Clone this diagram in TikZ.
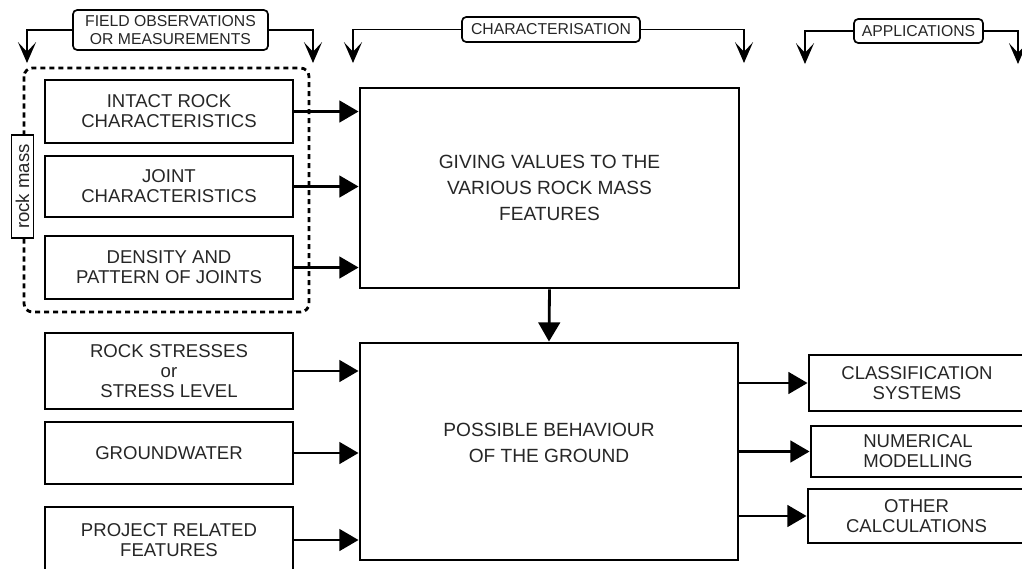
\documentclass[tikz,border=0pt]{standalone}
\usepackage{fontspec}
\setmainfont{Liberation Sans}
\usetikzlibrary{arrows.meta}

\begin{document}
\begin{tikzpicture}[x=0.025cm, y=-0.025cm,
		box/.style={draw=black, line width=2pt, align=center, inner sep=0pt,
			font=\fontsize{13.2}{14.2}\selectfont, text=black!85},
		bigbox/.style={box, font=\fontsize{13.6}{18.5}\selectfont},
		tag/.style={draw=black, line width=1.2pt, rounded corners=3pt, align=center,
			inner sep=0pt, fill=white, font=\fontsize{11.2}{12.2}\selectfont, text=black!85},
		feed/.style={line width=2pt, -{Triangle[length=0.48cm, width=0.54cm]}},
		hdr/.style={line width=1.4pt, -{Stealth[length=0.52cm, width=0.45cm, inset=0.24cm]}},
		dotframe/.style={line width=2pt, dash pattern=on 3.6pt off 2.8pt, rounded corners=6pt}]
		%%%%% START %%%%%
		\useasboundingbox (0, 0) rectangle (1022, 568);
		\clip (0, 0) rectangle (1022, 568);
		
		% headers
		\node[tag, minimum width=4.875cm, minimum height=1.0cm] (lblfield) at (170.5, 30) {FIELD OBSERVATIONS\\OR MEASUREMENTS};
		\node[tag, minimum width=4.45cm, minimum height=0.625cm] (lblchar) at (551, 29.5) {CHARACTERISATION};
		\node[tag, minimum width=3.225cm, minimum height=0.6cm] (lblapp) at (918.5, 31) {APPLICATIONS};
		
		\coordinate (fieldL) at (27, 63);
		\coordinate (fieldR) at (313, 63);
		\coordinate (charL) at (353, 63);
		\coordinate (charR) at (744, 63);
		\coordinate (appL) at (805, 64);
		\coordinate (appR) at (1018, 64);
		
		\draw[hdr] (lblfield.west) -| (fieldL);
		\draw[hdr] (lblfield.east) -| (fieldR);
		\draw[hdr] (lblchar.west) -| (charL);
		\draw[hdr] (lblchar.east) -| (charR);
		\draw[hdr] (lblapp.west) -| (appL);
		\draw[hdr] (lblapp.east) -| (appR);
		
		% rock mass group
		\draw[dotframe] (24, 68) rectangle (309, 312);
		\node[draw=black, line width=1.2pt, fill=white, rotate=90, inner sep=0pt,
			minimum width=2.575cm, minimum height=0.55cm,
			font=\fontsize{13.2}{14}\selectfont, text=black!85] (rockmass) at (22.5, 186.5) {rock mass};
		
		\node[box, minimum width=6.2cm, minimum height=1.575cm] (intact) at (169, 111.5) {INTACT ROCK\\CHARACTERISTICS};
		\node[box, minimum width=6.2cm, minimum height=1.525cm] (joint) at (169, 186.5) {JOINT\\CHARACTERISTICS};
		\node[box, minimum width=6.2cm, minimum height=1.575cm] (density) at (169, 267.5) {DENSITY AND\\PATTERN OF JOINTS};
		
		\node[box, minimum width=6.2cm, minimum height=1.9cm] (stress) at (169, 371) {ROCK STRESSES\\or\\STRESS LEVEL};
		\node[box, minimum width=6.2cm, minimum height=1.55cm] (water) at (169, 453) {GROUNDWATER};
		\node[box, minimum width=6.2cm, minimum height=1.65cm] (project) at (169, 540) {PROJECT RELATED\\FEATURES};
		
		% main boxes
		\node[bigbox, minimum width=9.475cm, minimum height=5.0cm] (values) at (549.5, 188) {GIVING VALUES TO THE\\VARIOUS ROCK MASS\\FEATURES};
		\node[bigbox, minimum width=9.45cm, minimum height=5.425cm] (behave) at (549, 451.5) {};
		\node[font=\fontsize{13.6}{18.5}\selectfont, align=center, text=black!85] (behavetxt) at (549, 443) {POSSIBLE BEHAVIOUR\\OF THE GROUND};
		
		% applications
		\node[box, minimum width=5.4cm, minimum height=1.4cm] (classif) at (917, 383) {CLASSIFICATION\\SYSTEMS};
		\node[box, minimum width=5.35cm, minimum height=1.275cm] (numer) at (918, 451.5) {NUMERICAL\\MODELLING};
		\node[box, minimum width=5.425cm, minimum height=1.35cm] (other) at (916.5, 516) {OTHER\\CALCULATIONS};
		
		% arrows
		\foreach \n in {intact, joint, density} {
			\draw[feed] (\n.east) -- (\n.east -| values.west);
		}
		\foreach \n in {stress, water, project} {
			\draw[feed] (\n.east) -- (\n.east -| behave.west);
		}
		\foreach \n in {classif, numer, other} {
			\draw[feed] (\n.west -| behave.east) -- (\n.west);
		}
		\draw[feed] (values.south) -- (behave.north);
		%%%%% END %%%%%
	\end{tikzpicture}
\end{document}
